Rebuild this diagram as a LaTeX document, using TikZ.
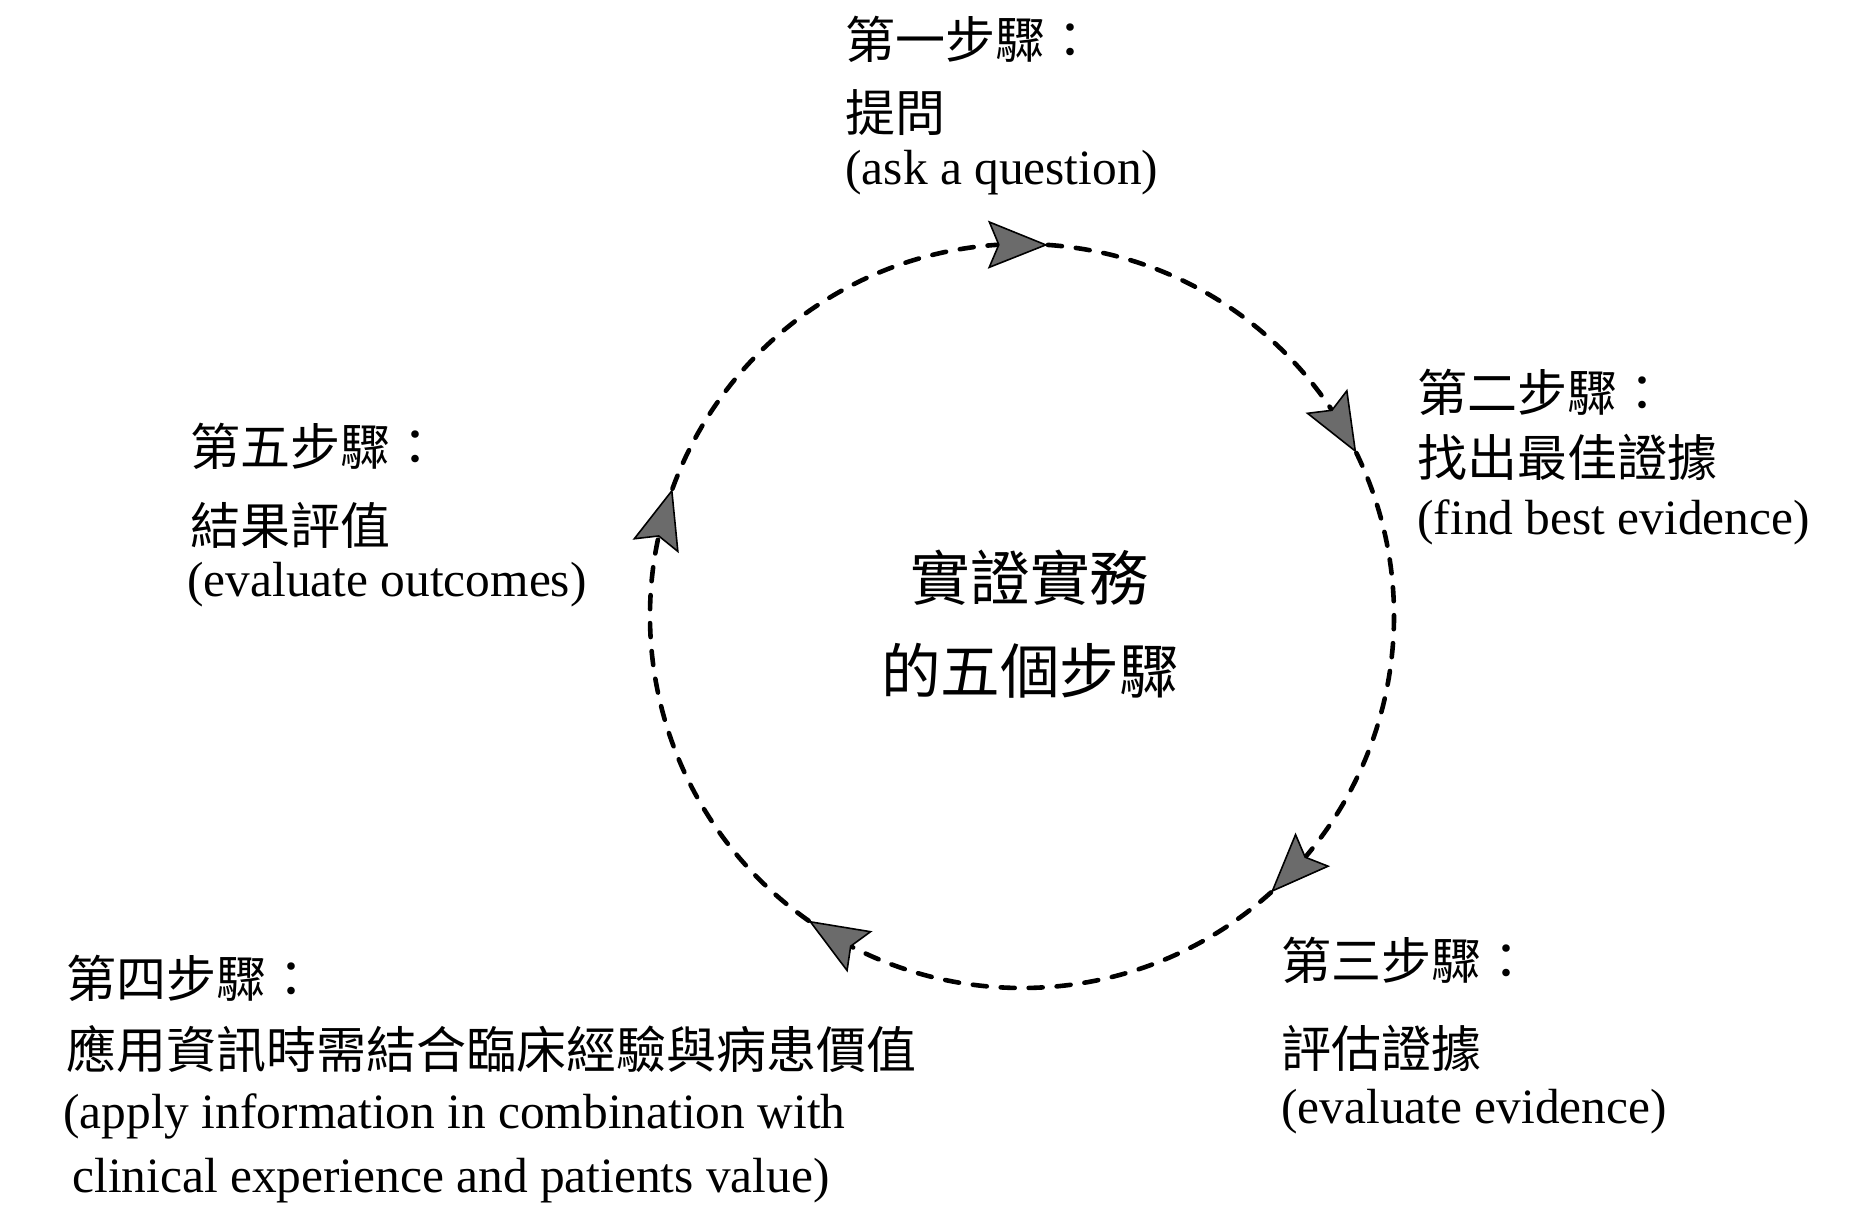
\documentclass[tikz,border=0pt]{standalone}
\usepackage{fontspec}
\setmainfont{Liberation Serif}
\newfontfamily\cjk{Noto Sans CJK TC}
\usetikzlibrary{arrows.meta,bending,calc}
\begin{document}
\begin{tikzpicture}[x=0.5pt,y=0.5pt,
  cjkt/.style={font=\cjk\fontsize{25pt}{30pt}\selectfont, anchor=west, inner sep=0pt},
  ent/.style={font=\fontsize{24.7pt}{30pt}\selectfont, anchor=base west, inner sep=0pt},
  ctr/.style={font=\cjk\fontsize{29.8pt}{36pt}\selectfont, inner sep=0pt},
  flow/.style={line width=2.3pt, line cap=round, dash pattern=on 7pt off 7pt,
    -{Stealth[length=30pt,width=24pt,inset=5pt,color=black,fill=black!58,line width=0.8pt]}}
]
\useasboundingbox (0,0) rectangle (1870,1212);
\fill[white] (0,0) rectangle (1870,1212);

% circle geometry
\coordinate (c) at (1022,596);
\coordinate (a1) at ($(c)+(86:372)$);
\coordinate (a2) at ($(c)+(26:372)$);
\coordinate (a3) at ($(c)+(-48:372)$);
\coordinate (a4) at ($(c)+(-125:372)$);
\coordinate (a5) at ($(c)+(160:372)$);

\draw[flow] (a5) arc[start angle=160,end angle=86,radius=372];
\draw[flow] (a1) arc[start angle=86,end angle=26,radius=372];
\draw[flow] (a2) arc[start angle=26,end angle=-48,radius=372];
\draw[flow] (a3) arc[start angle=-48,end angle=-125,radius=372];
\draw[flow] (a4) arc[start angle=-125,end angle=-200,radius=372];

% centre
\node[ctr] (t1) at (1030,634) {實證實務};
\node[ctr] (t2) at (1030,541) {的五個步驟};

% step 1
\node[cjkt] (s1a) at (845,1173) {第一步驟：};
\node[cjkt] (s1b) at (845,1099) {提問};
\node[ent]  (s1c) at (845,1027) {(ask a question)};

% step 2
\node[cjkt] (s2a) at (1417,820) {第二步驟：};
\node[cjkt] (s2b) at (1417,755) {找出最佳證據};
\node[ent]  (s2c) at (1417,677) {(find best evidence)};

% step 3
\node[cjkt] (s3a) at (1281,252) {第三步驟：};
\node[cjkt] (s3b) at (1281,164) {評估證據};
\node[ent]  (s3c) at (1281,89) {(evaluate evidence)};

% step 4
\node[cjkt] (s4a) at (66,234) {第四步驟：};
\node[cjkt] (s4b) at (66,163) {應用資訊時需結合臨床經驗與病患價值};
\node[ent]  (s4c) at (63,84) {(apply information in combination with};
\node[ent]  (s4d) at (72,20) {clinical experience and patients value)};

% step 5
\node[cjkt] (s5a) at (190,766) {第五步驟：};
\node[cjkt] (s5b) at (190,687) {結果評值};
\node[ent]  (s5c) at (187,615) {(evaluate outcomes)};
\end{tikzpicture}
\end{document}
